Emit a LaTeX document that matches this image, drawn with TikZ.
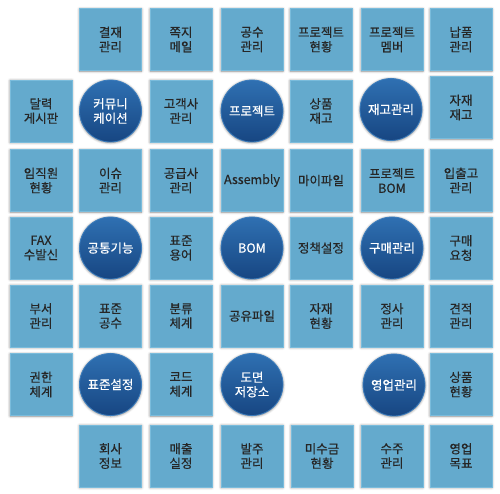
\documentclass[tikz,border=0pt]{standalone}
\usepackage{fontspec}
\setmainfont{Noto Sans CJK KR}
\newfontfamily\cellfont[FakeBold=0.6]{Noto Sans CJK KR}
\usetikzlibrary{shadows.blur}

\definecolor{cellblue}{HTML}{64AACD}
\definecolor{celledge}{HTML}{7ABCDC}
\definecolor{hubtop}{HTML}{2F70B2}
\definecolor{hubbot}{HTML}{174682}
\definecolor{hubedge}{HTML}{3C7DBD}

\tikzset{
    cell/.style={rectangle, fill=cellblue, draw=celledge, line width=0.8pt,
        minimum size=62pt, inner sep=0pt, align=center, text=black!85,
        font=\cellfont\fontsize{12.5}{14.5}\selectfont,
        blur shadow={shadow xshift=0pt, shadow yshift=-0.5pt, shadow blur radius=2.5pt, shadow opacity=45}},
    hub/.style={circle, top color=hubtop, bottom color=hubbot, draw=hubedge, line width=0.8pt,
        minimum size=62pt, inner sep=0pt, align=center, text=white,
        font=\cellfont\fontsize{12.5}{14.5}\selectfont,
        blur shadow={shadow xshift=0pt, shadow yshift=-0.5pt, shadow blur radius=2.5pt, shadow opacity=55}}
}

\begin{document}
\begin{tikzpicture}[x=1pt, y=-1pt]
    \useasboundingbox (0,0) rectangle (500,493);

    % Felső sor
    \node[cell] (approval)   at (110.5, 39.5) {결재\\관리};
    \node[cell] (memo)       at (181, 39.5)   {쪽지\\메일};
    \node[cell] (manhour)    at (252, 39.5)   {공수\\관리};
    \node[cell] (prjstatus)  at (321, 39.5)   {프로젝트\\현황};
    \node[cell] (prjmember)  at (392, 39.5)   {프로젝트\\멤버};
    \node[cell] (delivery)   at (461, 39.5)   {납품\\관리};

    % Második sor
    \node[cell] (calendar)   at (41, 111)     {달력\\게시판};
    \node[hub]  (community)  at (110.5, 111)  {커뮤니\\케이션};
    \node[cell] (customer)   at (181, 111)    {고객사\\관리};
    \node[hub]  (project)    at (252, 111)    {프로젝트};
    \node[cell] (goodsstock) at (321, 111)    {상품\\재고};
    \node[hub]  (stockmgmt)  at (391, 109.5)  {재고관리};
    \node[cell] (matstock)   at (461, 107.5)  {자재\\재고};

    % Harmadik sor
    \node[cell] (staff)      at (41, 180.5)   {임직원\\현황};
    \node[cell] (issue)      at (110.5, 180.5) {이슈\\관리};
    \node[cell] (supplier)   at (181, 180.5)  {공급사\\관리};
    \node[cell] (assembly)   at (252, 180.5)  {Assembly};
    \node[cell] (myfile)     at (321, 180.5)  {마이파일};
    \node[cell] (prjbom)     at (392, 180.5)  {프로젝트\\BOM};
    \node[cell] (inout)      at (461, 180.5)  {입출고\\관리};

    % Negyedik sor
    \node[cell] (fax)        at (41, 248)     {FAX\\수발신};
    \node[hub]  (common)     at (110.5, 248)  {공통기능};
    \node[cell] (terms)      at (181, 248)    {표준\\용어};
    \node[hub]  (bom)        at (252, 248)    {BOM};
    \node[cell] (policy)     at (321, 248)    {정책설정};
    \node[hub]  (purchase)   at (392, 248)    {구매관리};
    \node[cell] (purchreq)   at (461, 248)    {구매\\요청};

    % Ötödik sor
    \node[cell] (dept)       at (41, 316)     {부서\\관리};
    \node[cell] (stdhours)   at (110.5, 316)  {표준\\공수};
    \node[cell] (classif)    at (181, 316)    {분류\\체계};
    \node[cell] (shared)     at (252, 316)    {공유파일};
    \node[cell] (matstatus)  at (321, 316)    {자재\\현황};
    \node[cell] (settle)     at (392, 316)    {정사\\관리};
    \node[cell] (quote)      at (461, 316)    {견적\\관리};

    % Hatodik sor
    \node[cell] (auth)       at (41, 384.5)   {권한\\체계};
    \node[hub]  (stdset)     at (110.5, 384.5) {표준설정};
    \node[cell] (codes)      at (181, 384.5)  {코드\\체계};
    \node[hub]  (drawings)   at (252, 384.5)  {도면\\저장소};
    \node[hub]  (sales)      at (394, 385)    {영업관리};
    \node[cell] (goodsstat)  at (461, 384.5)  {상품\\현황};

    % Alsó sor
    \node[cell] (company)    at (110.5, 456)  {회사\\정보};
    \node[cell] (revenue)    at (181, 456)    {매출\\실정};
    \node[cell] (order)      at (252, 456)    {발주\\관리};
    \node[cell] (receivable) at (322, 456)    {미수금\\현황};
    \node[cell] (orderrecv)  at (392, 456)    {수주\\관리};
    \node[cell] (target)     at (461, 456)    {영업\\목표};
\end{tikzpicture}
\end{document}
